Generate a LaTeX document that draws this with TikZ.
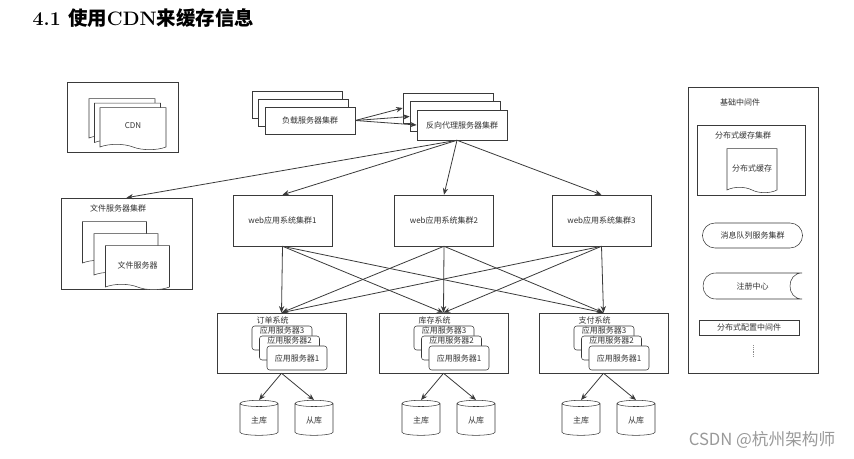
\documentclass[tikz,border=0pt]{standalone}
\usepackage{fontspec}
\usepackage{tikz}
\usetikzlibrary{arrows.meta, positioning, shapes.symbols, shapes.geometric, shapes.misc}
\newfontfamily\cjk{Noto Sans CJK SC}
\definecolor{linegray}{HTML}{3A3A3A}

\begin{document}
\begin{tikzpicture}[
    x=0.75pt, y=-0.75pt,
    % Node styles
    txt/.style={font=\cjk\fontsize{6}{7}\selectfont, text=black!80},
    box/.style={txt, rectangle, draw=linegray, fill=white, inner sep=1pt},
    doc/.style={txt, tape, draw=linegray, fill=white, tape bend top=none,
        tape bend bottom=out and in, tape bend height=4pt},
    app/.style={box, rounded corners=2pt, minimum width=45pt, minimum height=18pt},
    db/.style={txt, cylinder, shape border rotate=90, draw=linegray, aspect=0.25,
        minimum width=28.5pt, minimum height=26.25pt},
    % Edge/arrow style
    link/.style={draw=linegray, line width=0.6pt, -{Stealth[length=5pt,width=4pt]}},
  ]
  \useasboundingbox (0,0) rectangle (854,459);

  \node[anchor=west, font=\fontsize{14.6}{17}\selectfont\bfseries] (title) at (28,18)
    {4.1 {\cjk 使用}CDN{\cjk 来缓存信息}};

  % CDN
  \node[box, minimum width=83.25pt, minimum height=52.5pt] (cdn) at (122.5,117) {};
  \node[doc, minimum width=49.5pt, minimum height=31.5pt] (cdn3) at (122,117) {};
  \node[doc, minimum width=49.5pt, minimum height=31.5pt] (cdn2) at (127.5,121.5) {};
  \node[doc, minimum width=49.5pt, minimum height=31.5pt] (cdn1) at (133,126) {CDN};

  % load balancers and reverse proxies
  \foreach \i/\x/\y in {3/297/104.5, 2/303.5/112.5}
    \node[box, minimum width=67.5pt, minimum height=20.25pt] (lb\i) at (\x,\y) {};
  \node[box, minimum width=67.5pt, minimum height=20.25pt] (lb1) at (310,120.5) {负载服务器集群};
  \foreach \i/\x/\y in {3/448/108, 2/455/116.5}
    \node[box, minimum width=67.5pt, minimum height=22.5pt] (rp\i) at (\x,\y) {};
  \node[box, minimum width=67.5pt, minimum height=22.5pt] (rp1) at (462,125) {反向代理服务器集群};
  \foreach \i in {3,2,1}
    \draw[link] (lb1.east) -- (rp\i.west);

  % file servers
  \node[box, minimum width=98.25pt, minimum height=68.25pt] (files) at (126.5,243.5) {};
  \node[txt] (fileslabel) at (118,208) {文件服务器集群};
  \node[doc, minimum width=48pt, minimum height=33pt] (fs3) at (114.5,241) {};
  \node[doc, minimum width=48pt, minimum height=33pt] (fs2) at (126,253) {};
  \node[doc, minimum width=48pt, minimum height=33pt] (fs1) at (137.5,265) {文件服务器};

  % web clusters
  \foreach \w/\x in {1/282.5, 2/444, 3/601.5}
    \node[box, minimum width=74.25pt, minimum height=38.25pt] (web\w) at (\x,220.5) {web应用系统集群\w};

  \draw[link] ([xshift=-3.75pt]rp1.south) -- (files.north);
  \foreach \w in {1,2,3}
    \draw[link] ([xshift=-3.75pt]rp1.south) -- (web\w.north);

  % business systems
  \foreach \s/\cx/\name in {1/281.5/订单系统, 2/443.5/库存系统, 3/603.5/支付系统} {
    \node[box, minimum width=96.75pt, minimum height=45pt] (sys\s) at (\cx,343) {};
    \node[txt] (sys\s label) at (\cx-9,320) {\name};
    \node[app] (a\s3) at (\cx+0.5,338) {};
    \node[txt, inner sep=0pt, below=0.8pt of a\s3.north] {应用服务器3};
    \node[app] (a\s2) at (\cx+8,348) {};
    \node[txt, inner sep=0pt, below=0.8pt of a\s2.north] {应用服务器2};
    \node[app] (a\s1) at (\cx+15.5,358) {应用服务器1};
    % databases
    \node[db] (m\s) at (\cx-22.5,420.5) {\raisebox{-3pt}{主库}};
    \node[db] (s\s) at (\cx+32.5,420.5) {\raisebox{-3pt}{从库}};
    \draw[link] (sys\s.south) -- (m\s.north);
    \draw[link] (sys\s.south) -- (s\s.north);
  }

  \foreach \w in {1,2,3}
    \foreach \s in {1,2,3}
      \draw[link] (web\w.south) -- (sys\s.north);

  % middleware
  \node[box, minimum width=97.5pt, minimum height=214.5pt] (mw) at (753,230) {};
  \node[txt] (mwlabel) at (740,102) {基础中间件};
  \node[box, minimum width=81pt, minimum height=52.5pt] (cache) at (751,160) {};
  \node[txt] (cachelabel) at (743,135) {分布式缓存集群};
  \node[doc, minimum width=37.5pt, minimum height=33pt] (cachedoc) at (752,168) {分布式缓存};
  \node[txt, rounded rectangle, draw=linegray, minimum width=81.75pt, minimum height=18.75pt] (mq) at (752.5,235.5) {消息队列服务集群};
  % registry: round on the left, hollow on the right
  \node[txt, minimum width=74.25pt, minimum height=19.5pt] (reg) at (752.5,286) {注册中心};
  \draw[linegray] (716,273) -- (802,273) .. controls (786,273) and (786,299) .. (802,299)
    -- (716,299) .. controls (698.7,299) and (698.7,273) .. (716,273) -- cycle;
  \node[box, minimum width=75pt, minimum height=11.25pt] (conf) at (749,327.5) {分布式配置中间件};
  \coordinate (dotA) at (753,345);
  \coordinate (dotB) at (753,358);
  \draw[black!45, densely dotted] (dotA) -- (dotB);

  \node[anchor=east, text=black!40, font=\cjk\fontsize{12.5}{14}\selectfont] (mark) at (840,440) {CSDN @杭州架构师};
\end{tikzpicture}
\end{document}
